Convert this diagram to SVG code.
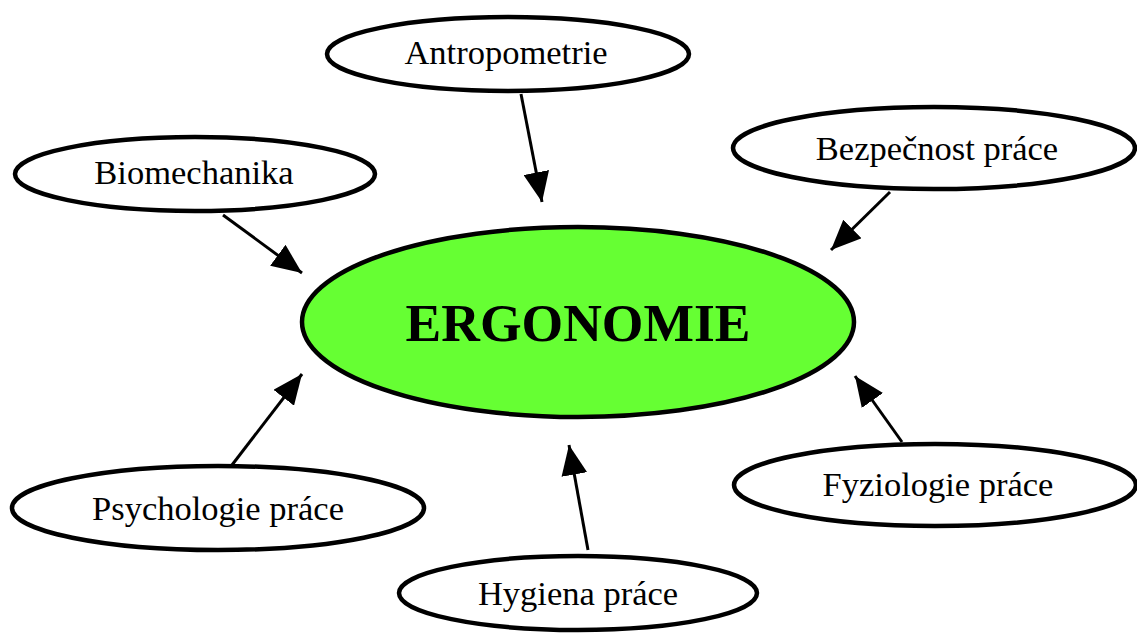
<svg xmlns="http://www.w3.org/2000/svg" width="1137" height="634" viewBox="0 0 1137 634">
<style>
.n{fill:#fff;stroke:#000;stroke-width:4.5}
.c{fill:#66FF33;stroke:#000;stroke-width:4.5}
.t{font-family:"Liberation Serif","Times New Roman",serif;font-size:34.5px;fill:#000;text-anchor:middle}
.b{font-family:"Liberation Serif","Times New Roman",serif;font-size:53.5px;font-weight:bold;fill:#000;text-anchor:middle}
.e{stroke:#000;stroke-width:3;fill:none;marker-end:url(#ah)}
</style>
<defs>
<marker id="ah" markerUnits="userSpaceOnUse" markerWidth="32" markerHeight="26" refX="30" refY="13" orient="auto" viewBox="0 0 32 26">
<path d="M0,0 L30,13 L0,26 z" fill="#000"/>
</marker>
</defs>
<rect width="1137" height="634" fill="#fff"/>
<g id="connectors">
<line class="e" x1="521" y1="94" x2="542" y2="202"/>
<line class="e" x1="223" y1="215" x2="302" y2="273"/>
<line class="e" x1="890" y1="192" x2="831" y2="250"/>
<line class="e" x1="232" y1="465" x2="302" y2="374"/>
<line class="e" x1="588" y1="550" x2="569" y2="445"/>
<line class="e" x1="902" y1="442" x2="855" y2="376"/>
</g>
<g id="ergonomie">
<ellipse class="c" cx="578" cy="322" rx="276" ry="95"/>
<text class="b" x="578" y="341">ERGONOMIE</text>
</g>
<g id="antropometrie">
<ellipse class="n" cx="508" cy="54" rx="181" ry="37"/>
<text class="t" x="506" y="64">Antropometrie</text>
</g>
<g id="biomechanika">
<ellipse class="n" cx="195" cy="174" rx="180" ry="37"/>
<text class="t" x="194" y="184">Biomechanika</text>
</g>
<g id="bezpecnost">
<ellipse class="n" cx="934" cy="148" rx="201" ry="41"/>
<text class="t" x="937" y="160">Bezpečnost práce</text>
</g>
<g id="psychologie">
<ellipse class="n" cx="218" cy="508" rx="206" ry="42"/>
<text class="t" x="218" y="520">Psychologie práce</text>
</g>
<g id="hygiena">
<ellipse class="n" cx="578" cy="593" rx="179" ry="37"/>
<text class="t" x="578" y="605">Hygiena práce</text>
</g>
<g id="fyziologie">
<ellipse class="n" cx="935" cy="485" rx="201" ry="41"/>
<text class="t" x="938" y="496">Fyziologie práce</text>
</g>
</svg>
